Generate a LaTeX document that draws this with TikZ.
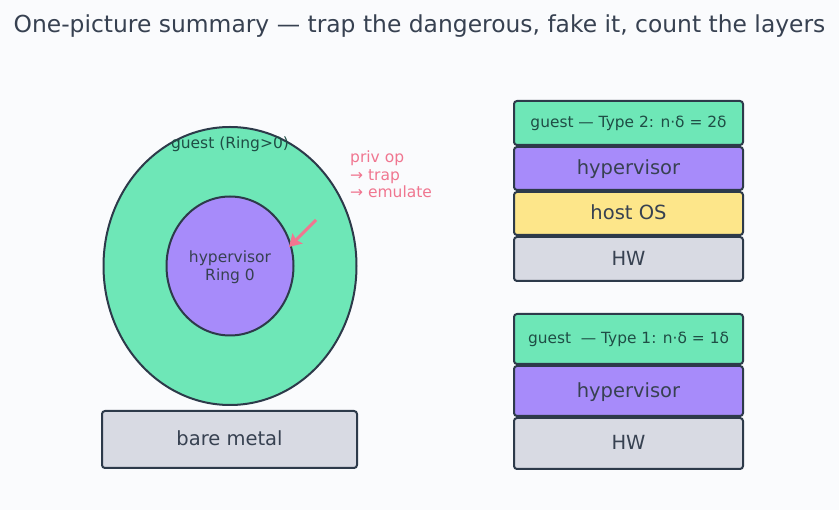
\documentclass[tikz,border=0pt]{standalone}
\usepackage{fontspec}
\setmainfont{DejaVu Sans}
\usetikzlibrary{arrows.meta}
\definecolor{bg}{HTML}{FAFBFD}
\definecolor{ink}{HTML}{2D3A4A}
\definecolor{txt}{HTML}{374151}
\definecolor{gtxt}{HTML}{1F4D45}
\definecolor{grn}{HTML}{6EE7B7}
\definecolor{pur}{HTML}{A78BFA}
\definecolor{yel}{HTML}{FDE68A}
\definecolor{gry}{HTML}{D8DAE3}
\definecolor{pink}{HTML}{F07690}
\begin{document}
\begin{tikzpicture}[x=1pt,y=-1pt,
  layer/.style={draw=ink,line width=2pt,rounded corners=3pt,minimum width=229pt,text=txt,font=\fontsize{19.5}{22}\selectfont,text height=15pt,text depth=2pt},
  small/.style={font=\fontsize{15.4}{18}\selectfont,text=gtxt,text height=12pt,text depth=2pt},
  lbl/.style={text=txt,font=\fontsize{15.5}{18}\selectfont,align=center}]
\fill[bg] (0,0) rectangle (839,510);
\useasboundingbox (0,0) rectangle (839,510);
\node[text=txt,font=\fontsize{23.4}{26}\selectfont] (title) at (419.5,26.5) {One-picture summary — trap the dangerous, fake it, count the layers};
% ellipses
\filldraw[fill=grn,draw=ink,line width=2pt] (230,266) ellipse [x radius=126.5,y radius=139];
\filldraw[fill=pur,draw=ink,line width=2pt] (230,266) ellipse [x radius=63.5,y radius=69.5];
\coordinate (innerE) at (289,247);
\node[lbl,text=gtxt] (gl) at (230,144.5) {guest (Ring>0)};
\node[lbl] (hl) at (230,267.5) {hypervisor\\Ring 0};
\node[text=pink,font=\fontsize{15.5}{17.5}\selectfont,align=left,anchor=north west,inner sep=0pt] (priv) at (350,151) {priv op\\→ trap\\→ emulate};
\coordinate (arrS) at (316,220);
\draw[pink,line width=3pt,-{Stealth[length=12pt,width=14pt,inset=2pt]}] (arrS) -- (innerE);
% bare metal
\node[layer,fill=gry,minimum width=255pt,minimum height=57pt] (bm) at (229.5,439.5) {bare metal};
% type 2 stack
\node[layer,fill=grn,minimum height=44pt,small] (g2) at (628.5,123) {guest — Type 2: n·δ = 2δ};
\node[layer,fill=pur,minimum height=43pt] (h2) at (628.5,168.5) {hypervisor};
\node[layer,fill=yel,minimum height=43pt] (o2) at (628.5,213.5) {host OS};
\node[layer,fill=gry,minimum height=44pt] (w2) at (628.5,259) {HW};
% type 1 stack
\node[layer,fill=grn,minimum height=50pt,small] (g1) at (628.5,339) {guest\ \ — Type 1: n·δ = 1δ};
\node[layer,fill=pur,minimum height=50pt] (h1) at (628.5,391) {hypervisor};
\node[layer,fill=gry,minimum height=51pt] (w1) at (628.5,443.5) {HW};
\end{tikzpicture}
\end{document}
